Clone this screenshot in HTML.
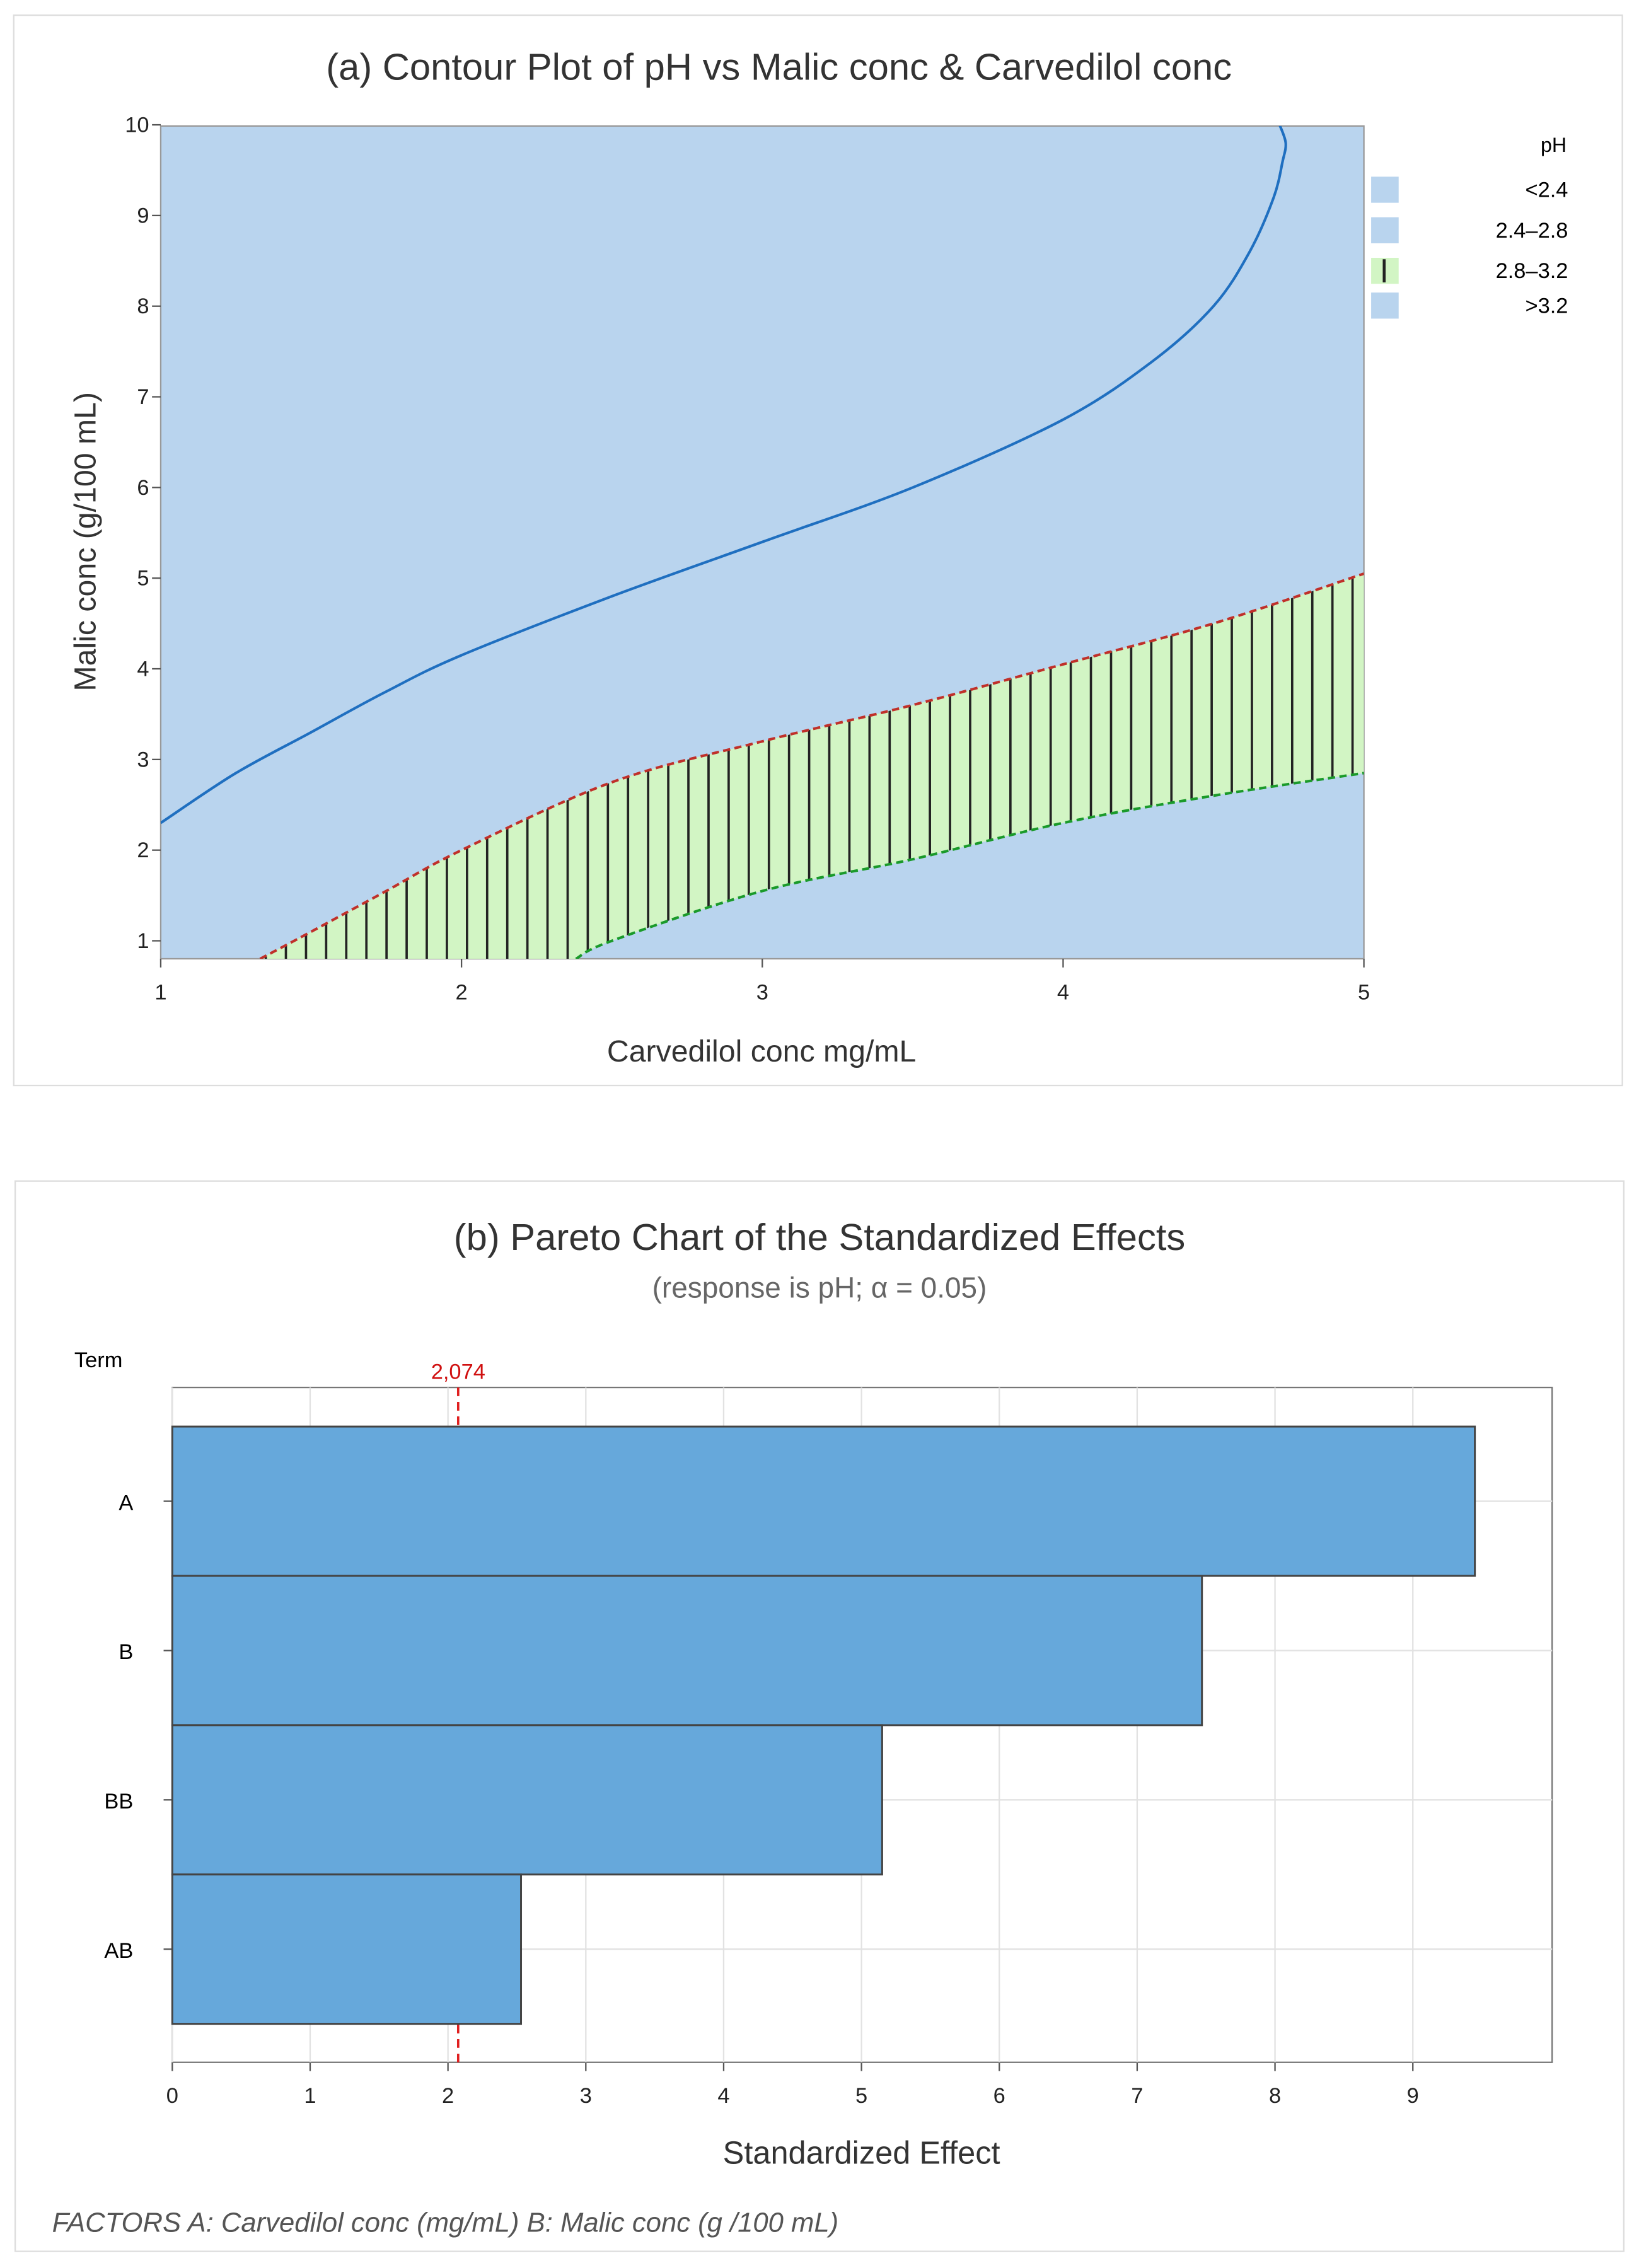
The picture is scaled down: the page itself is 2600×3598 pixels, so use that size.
<!DOCTYPE html>
<html><head><meta charset="utf-8"><style>
html,body{margin:0;padding:0;background:#fff}
svg{display:block}
text{font-family:"Liberation Sans",sans-serif}
</style></head><body>
<svg id="s" width="2600" height="3598" viewBox="0 0 1132 1566" preserveAspectRatio="none" xmlns="http://www.w3.org/2000/svg">
<defs><clipPath id="plotclip"><rect x="111" y="87" width="831" height="575"/></clipPath><clipPath id="bandclip"><path id="bandclipPath" d=""/></clipPath></defs>
<rect x="9.5" y="10.5" width="1111" height="739" fill="#fff" stroke="#ddd"/>
<text x="538" y="55" font-size="26" fill="#333" text-anchor="middle">(a)  Contour Plot of pH vs Malic conc &amp; Carvedilol conc</text>
<g id="contour"></g>
<text x="526" y="733" font-size="21" fill="#333" text-anchor="middle">Carvedilol conc mg/mL</text>
<text transform="translate(66,374) rotate(-90)" font-size="21" fill="#333" text-anchor="middle">Malic conc (g/100 mL)</text>
<g id="legend">
<text x="1082" y="105" font-size="14" text-anchor="end" fill="#000">pH</text>
</g>
<rect x="10.5" y="815.5" width="1111" height="739" fill="#fff" stroke="#ddd"/>
<text x="566" y="863" font-size="26" fill="#333" text-anchor="middle">(b)  Pareto Chart of the Standardized Effects</text>
<text x="566" y="896" font-size="20" fill="#666" text-anchor="middle">(response is pH; α = 0.05)</text>
<text x="68" y="944" font-size="15" fill="#000" text-anchor="middle">Term</text>
<g id="pareto"></g>
<text x="595" y="1494" font-size="22" fill="#333" text-anchor="middle">Standardized Effect</text>
<text x="36" y="1541" font-size="19" font-style="italic" fill="#555">FACTORS A: Carvedilol conc (mg/mL)    B: Malic conc (g /100 mL)</text>
</svg>
<script>
// ---- contour data ----
const blueX=[1,1.25,1.5,1.75,2,2.5,3,3.5,4,4.3,4.5,4.62,4.7,4.73,4.74,4.72];
const blueY=[2.3,2.85,3.3,3.75,4.15,4.8,5.4,6.0,6.75,7.4,8.0,8.6,9.2,9.6,9.8,10];
const upperX=[1.33,1.5,1.75,2,2.5,3,3.5,4,4.5,5];
const upperY=[0.8,1.1,1.55,2.0,2.75,3.2,3.6,4.05,4.5,5.05];
const lowerX=[2.38,2.5,3,3.5,4,4.5,5];
const lowerY=[0.8,1.0,1.55,1.9,2.3,2.6,2.85];
const xTicks=[1,2,3,4,5];
const yTicks=[1,2,3,4,5,6,7,8,9,10];
const legendLabels=["<2.4","2.4–2.8","2.8–3.2",">3.2"];
// ---- pareto data ----
const terms=["A","B","BB","AB"];
const effects=[9.45,7.47,5.15,2.53];
const critical=2.074;
const effTicks=[0,1,2,3,4,5,6,7,8,9];

const NS="http://www.w3.org/2000/svg";
function mk(tag,attrs,parent){const e=document.createElementNS(NS,tag);for(const k in attrs)e.setAttribute(k,attrs[k]);parent.appendChild(e);return e;}
const cx=v=>111+(v-1)*207.75;
const cy=v=>649.6-(v-1)*62.6;
function smooth(X,Y){
  const P=X.map((x,i)=>[cx(x),cy(Y[i])]);
  let d='M'+P[0][0].toFixed(1)+','+P[0][1].toFixed(1);
  for(let i=0;i<P.length-1;i++){
    const p0=P[Math.max(0,i-1)],p1=P[i],p2=P[i+1],p3=P[Math.min(P.length-1,i+2)];
    const c1=[p1[0]+(p2[0]-p0[0])/6,p1[1]+(p2[1]-p0[1])/6];
    const c2=[p2[0]-(p3[0]-p1[0])/6,p2[1]-(p3[1]-p1[1])/6];
    d+=' C'+c1[0].toFixed(1)+','+c1[1].toFixed(1)+' '+c2[0].toFixed(1)+','+c2[1].toFixed(1)+' '+p2[0].toFixed(1)+','+p2[1].toFixed(1);
  }
  return d;
}
const g=document.getElementById('contour');
const bg=mk('rect',{x:111,y:87,width:831,height:575,fill:'#b9d4ee',stroke:'#999'},g);


const upD=smooth(upperX,upperY);
const loRevD=smooth(lowerX.slice().reverse(),lowerY.slice().reverse());
const bandPath=upD+' L'+loRevD.slice(1)+' Z';
document.getElementById('bandclipPath').setAttribute('d',bandPath);
const gc=mk('g',{'clip-path':'url(#plotclip)'},g);
const band=mk('path',{d:bandPath,fill:'#d2f5c4'},gc);


const hatch=mk('g',{'clip-path':'url(#bandclip)'},gc);
for(let x=cx(upperX[0])+4;x<942;x+=13.9){
  const l=mk('line',{x1:x,x2:x,y1:87,y2:662,stroke:'#222','stroke-width':1.6},hatch);
  
  
}
const up=mk('path',{d:upD,fill:'none',stroke:'#c0302a','stroke-width':1.8,'stroke-dasharray':'5,3'},gc);


const lo=mk('path',{d:smooth(lowerX,lowerY),fill:'none',stroke:'#1a9a2a','stroke-width':1.8,'stroke-dasharray':'5,3'},gc);


const bl=mk('path',{d:smooth(blueX,blueY),fill:'none',stroke:'#1f6fc0','stroke-width':1.8},gc);


xTicks.forEach(v=>{
  mk('line',{x1:cx(v),x2:cx(v),y1:662,y2:668,stroke:'#555'},g);
  const t=mk('text',{x:cx(v),y:690,'font-size':15,'text-anchor':'middle',fill:'#222'},g);t.textContent=v;
  
  
});
yTicks.forEach(v=>{
  mk('line',{x1:105,x2:111,y1:cy(v),y2:cy(v),stroke:'#555'},g);
  const t=mk('text',{x:103,y:cy(v)+5,'font-size':15,'text-anchor':'end',fill:'#222'},g);t.textContent=v;
  
  
});
const lg=document.getElementById('legend');
const lys=[131,159,187,211];
legendLabels.forEach((s,i)=>{
  const r=mk('rect',{x:947,y:lys[i]-9,width:19,height:18,fill:i==2?'#d2f5c4':'#b9d4ee'},lg);
  
  
  if(i==2)mk('line',{x1:956,x2:956,y1:lys[i]-8,y2:lys[i]+8,stroke:'#222','stroke-width':2},lg);
  const t=mk('text',{x:1083,y:lys[i]+5,'font-size':15,'font-family':'Liberation Mono, monospace','text-anchor':'end',fill:'#000'},lg);t.textContent=s;
  
  
});
// ---- pareto ----
const p=document.getElementById('pareto');
const px=v=>119+v*95.2;
const barTop=985,bh=103.1;
mk('rect',{x:119,y:958,width:953,height:466,fill:'#fff',stroke:'#777'},p);
effTicks.forEach(v=>{
  mk('line',{x1:px(v),x2:px(v),y1:958,y2:1424,stroke:'#e2e2e2'},p);
  mk('line',{x1:px(v),x2:px(v),y1:1424,y2:1430,stroke:'#555'},p);
  const t=mk('text',{x:px(v),y:1452,'font-size':15,'text-anchor':'middle',fill:'#222'},p);t.textContent=v;
  
  
});
terms.forEach((s,i)=>{
  const yc=barTop+bh*(i+0.5);
  mk('line',{x1:119,x2:1072,y1:yc,y2:yc,stroke:'#e2e2e2'},p);
  mk('line',{x1:113,x2:119,y1:yc,y2:yc,stroke:'#555'},p);
  const t=mk('text',{x:92,y:yc+6,'font-size':15,'text-anchor':'end',fill:'#000'},p);t.textContent=s;
  
  
});
const cl=mk('line',{x1:px(critical),x2:px(critical),y1:958,y2:1424,stroke:'#e02020','stroke-width':1.6,'stroke-dasharray':'6,4'},p);


const ct=mk('text',{x:px(critical),y:952,'font-size':15,'text-anchor':'middle',fill:'#d01010'},p);ct.textContent=critical.toFixed(3).replace('.',',');


terms.forEach((s,i)=>{
  const r=mk('rect',{x:119,y:barTop+bh*i,width:px(effects[i])-119,height:bh,fill:'#66a8db',stroke:'#444','stroke-width':1.3},p);
  
  
});
</script>
</body></html>
